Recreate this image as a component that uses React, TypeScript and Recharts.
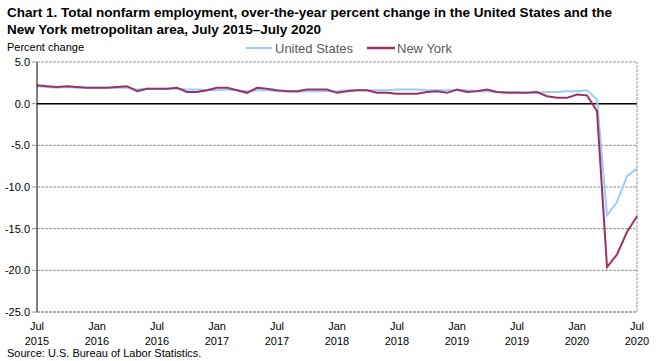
import { LineChart, Line, XAxis, YAxis, CartesianGrid, ReferenceLine } from "recharts";

const monthNames = ["Jul", "Aug", "Sep", "Oct", "Nov", "Dec", "Jan", "Feb", "Mar", "Apr", "May", "Jun"];
const startYear = 2015;
const yTicks = [-25, -20, -15, -10, -5, 0, 5];

const unitedStates = [
  2.1, 2.0, 1.9, 2.0, 1.9, 1.9, 1.9, 1.9, 1.9, 1.9, 1.7, 1.8,
  1.8, 1.8, 1.8, 1.7, 1.7, 1.6, 1.6, 1.7, 1.6, 1.5, 1.6, 1.6,
  1.5, 1.5, 1.4, 1.5, 1.5, 1.5, 1.5, 1.6, 1.6, 1.6, 1.6, 1.6,
  1.7, 1.7, 1.7, 1.6, 1.6, 1.6, 1.6, 1.6, 1.5, 1.5, 1.4, 1.4,
  1.4, 1.3, 1.3, 1.4, 1.4, 1.5, 1.5, 1.6, 0.5, -13.4, -11.8, -8.7,
  -7.8,
];

const newYork = [
  2.2, 2.1, 2.0, 2.1, 2.0, 1.9, 1.9, 1.9, 2.0, 2.1, 1.5, 1.8,
  1.8, 1.8, 1.9, 1.4, 1.4, 1.6, 1.9, 1.9, 1.6, 1.3, 1.9, 1.8,
  1.6, 1.5, 1.5, 1.7, 1.7, 1.7, 1.3, 1.5, 1.6, 1.6, 1.3, 1.3,
  1.2, 1.2, 1.2, 1.4, 1.5, 1.3, 1.7, 1.4, 1.5, 1.7, 1.4, 1.3,
  1.3, 1.3, 1.4, 0.9, 0.7, 0.7, 1.1, 1.0, -0.9, -19.6, -18.1, -15.4,
  -13.5,
];

const months = unitedStates.map((_, i) => {
  const m = monthNames[i % 12];
  const y = startYear + Math.floor((i + 6) / 12);
  return `${m} ${y}`;
});

const data = months.map((month, i) => ({
  month,
  us: unitedStates[i],
  ny: newYork[i],
}));

const FONT = "'Liberation Sans', Arial, sans-serif";
const GRID = "#8e9a8e";

function MonthTick({ x, y, payload }: any) {
  const [m, yr] = String(payload.value).split(" ");
  return (
    <text x={x} y={y} textAnchor="middle" fontSize={11} fill="#000" fontFamily={FONT}>
      <tspan x={x} dy={10}>{m}</tspan>
      <tspan x={x} dy={15}>{yr}</tspan>
    </text>
  );
}

export default function App() {
  return (
    <div style={{ position: "absolute", left: 0, top: 0, width: 660, height: 361, background: "#fff", fontFamily: FONT }}>
      <LineChart width={660} height={361} data={data} margin={{ top: 62, right: 23, bottom: 9, left: 0 }}>
        <CartesianGrid vertical={false} stroke={GRID} strokeDasharray="3 1" />
        <XAxis
          dataKey="month"
          interval={5}
          tick={<MonthTick />}
          tickLine={false}
          axisLine={{ stroke: GRID, strokeDasharray: "3 1" }}
          height={40}
        />
        <YAxis
          domain={[-25, 5]}
          ticks={yTicks}
          tickFormatter={(v: number) => v.toFixed(1)}
          tick={{ fontSize: 11, fill: "#000", fontFamily: FONT }}
          tickLine={{ stroke: GRID }}
          tickSize={5}
          axisLine={{ stroke: "#000" }}
          width={37}
        />
        <ReferenceLine y={0} stroke="#000" strokeWidth={1.5} />
        <ReferenceLine x={months[months.length - 1]} stroke={GRID} strokeDasharray="3 1" />
        <Line type="linear" dataKey="us" stroke="#99ccff" strokeWidth={2} dot={false} isAnimationActive={false} />
        <Line type="linear" dataKey="ny" stroke="#993366" strokeWidth={2} dot={false} isAnimationActive={false} />
      </LineChart>
      <svg width={660} height={361} style={{ position: "absolute", left: 0, top: 0, pointerEvents: "none" }} fontFamily={FONT}>
        <text x={7} y={17} fontSize={12.5} fontWeight="bold" textLength={605} lengthAdjust="spacingAndGlyphs">
          Chart 1. Total nonfarm employment, over-the-year percent change in the United States and the
        </text>
        <text x={7} y={34} fontSize={12.5} fontWeight="bold" textLength={314} lengthAdjust="spacingAndGlyphs">
          New York metropolitan area, July 2015–July  2020
        </text>
        <text x={7} y={51} fontSize={11}>Percent change</text>
        <line x1={246} y1={48} x2={272} y2={48} stroke="#99ccff" strokeWidth={2} />
        <text x={275} y={53} fontSize={13} fill="#595959">United States</text>
        <line x1={367} y1={48} x2={395} y2={48} stroke="#993366" strokeWidth={2.5} />
        <text x={397} y={53} fontSize={13} fill="#595959">New York</text>
        <text x={7} y={357} fontSize={11}>Source: U.S. Bureau of Labor Statistics.</text>
      </svg>
    </div>
  );
}
